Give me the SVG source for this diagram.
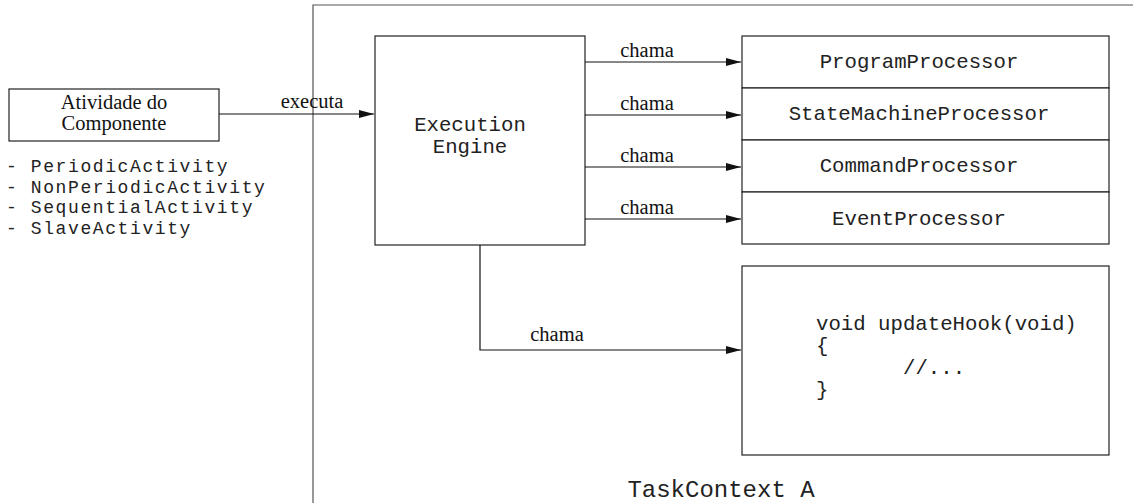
<svg xmlns="http://www.w3.org/2000/svg" width="1133" height="503" viewBox="0 0 1133 503">
<style>
.box{fill:#fff;stroke:#222;stroke-width:1.2}
.line{fill:none;stroke:#111;stroke-width:1.2}
.frame{fill:none;stroke:#555;stroke-width:1.2}
.serif{font-family:"Liberation Serif","Times New Roman",serif;font-size:20.5px;fill:#111}
.mono{font-family:"Liberation Mono","Courier New",monospace;font-size:20.7px;fill:#222}
.list{font-size:18px;letter-spacing:1.6px}
.mid{text-anchor:middle}
</style>
<defs>
<marker id="arrow" markerUnits="userSpaceOnUse" markerWidth="16" markerHeight="9" refX="15" refY="4" orient="auto">
<path d="M0,0 L15,4 L0,8 z" fill="#111"/>
</marker>
</defs>
<g id="taskcontext">
<path class="frame" d="M313,503 L313,5 L1133,5"/>
<text class="mono mid" x="721" y="497" style="font-size:24px">TaskContext A</text>
</g>
<g id="activity">
<rect class="box" x="9" y="89" width="210" height="52"/>
<text class="serif mid" x="114" y="109">Atividade do</text>
<text class="serif mid" x="114" y="130">Componente</text>
<text class="mono list" x="6" y="172">- PeriodicActivity</text>
<text class="mono list" x="6" y="192.5">- NonPeriodicActivity</text>
<text class="mono list" x="6" y="213">- SequentialActivity</text>
<text class="mono list" x="6" y="233.5">- SlaveActivity</text>
</g>
<g id="engine">
<rect class="box" x="375" y="36" width="210" height="209"/>
<text class="mono mid" x="470" y="131">Execution</text>
<text class="mono mid" x="470" y="153">Engine</text>
</g>
<g id="program-processor">
<rect class="box" x="742" y="36" width="367" height="52"/>
<text class="mono mid" x="919" y="68">ProgramProcessor</text>
</g>
<g id="statemachine-processor">
<rect class="box" x="742" y="88" width="367" height="52"/>
<text class="mono mid" x="919" y="120">StateMachineProcessor</text>
</g>
<g id="command-processor">
<rect class="box" x="742" y="140" width="367" height="52"/>
<text class="mono mid" x="919" y="172">CommandProcessor</text>
</g>
<g id="event-processor">
<rect class="box" x="742" y="192" width="367" height="52"/>
<text class="mono mid" x="919" y="225">EventProcessor</text>
</g>
<g id="updatehook">
<rect class="box" x="742" y="266" width="367" height="189"/>
<text class="mono" x="816" y="330">void updateHook(void)</text>
<text class="mono" x="816" y="352">{</text>
<text class="mono" x="903" y="374">//...</text>
<text class="mono" x="816" y="396">}</text>
</g>
<g id="connectors">
<path class="line" d="M219,114 L374,114" marker-end="url(#arrow)"/>
<text class="serif mid" x="312" y="108">executa</text>
<path class="line" d="M585,62 L741,62" marker-end="url(#arrow)"/>
<text class="serif mid" x="647" y="57">chama</text>
<path class="line" d="M585,115 L741,115" marker-end="url(#arrow)"/>
<text class="serif mid" x="647" y="110">chama</text>
<path class="line" d="M585,167 L741,167" marker-end="url(#arrow)"/>
<text class="serif mid" x="647" y="162">chama</text>
<path class="line" d="M585,219 L741,219" marker-end="url(#arrow)"/>
<text class="serif mid" x="647" y="214">chama</text>
<path class="line" d="M480,245 L480,350 L741,350" marker-end="url(#arrow)"/>
<text class="serif mid" x="557" y="341">chama</text>
</g>
</svg>
